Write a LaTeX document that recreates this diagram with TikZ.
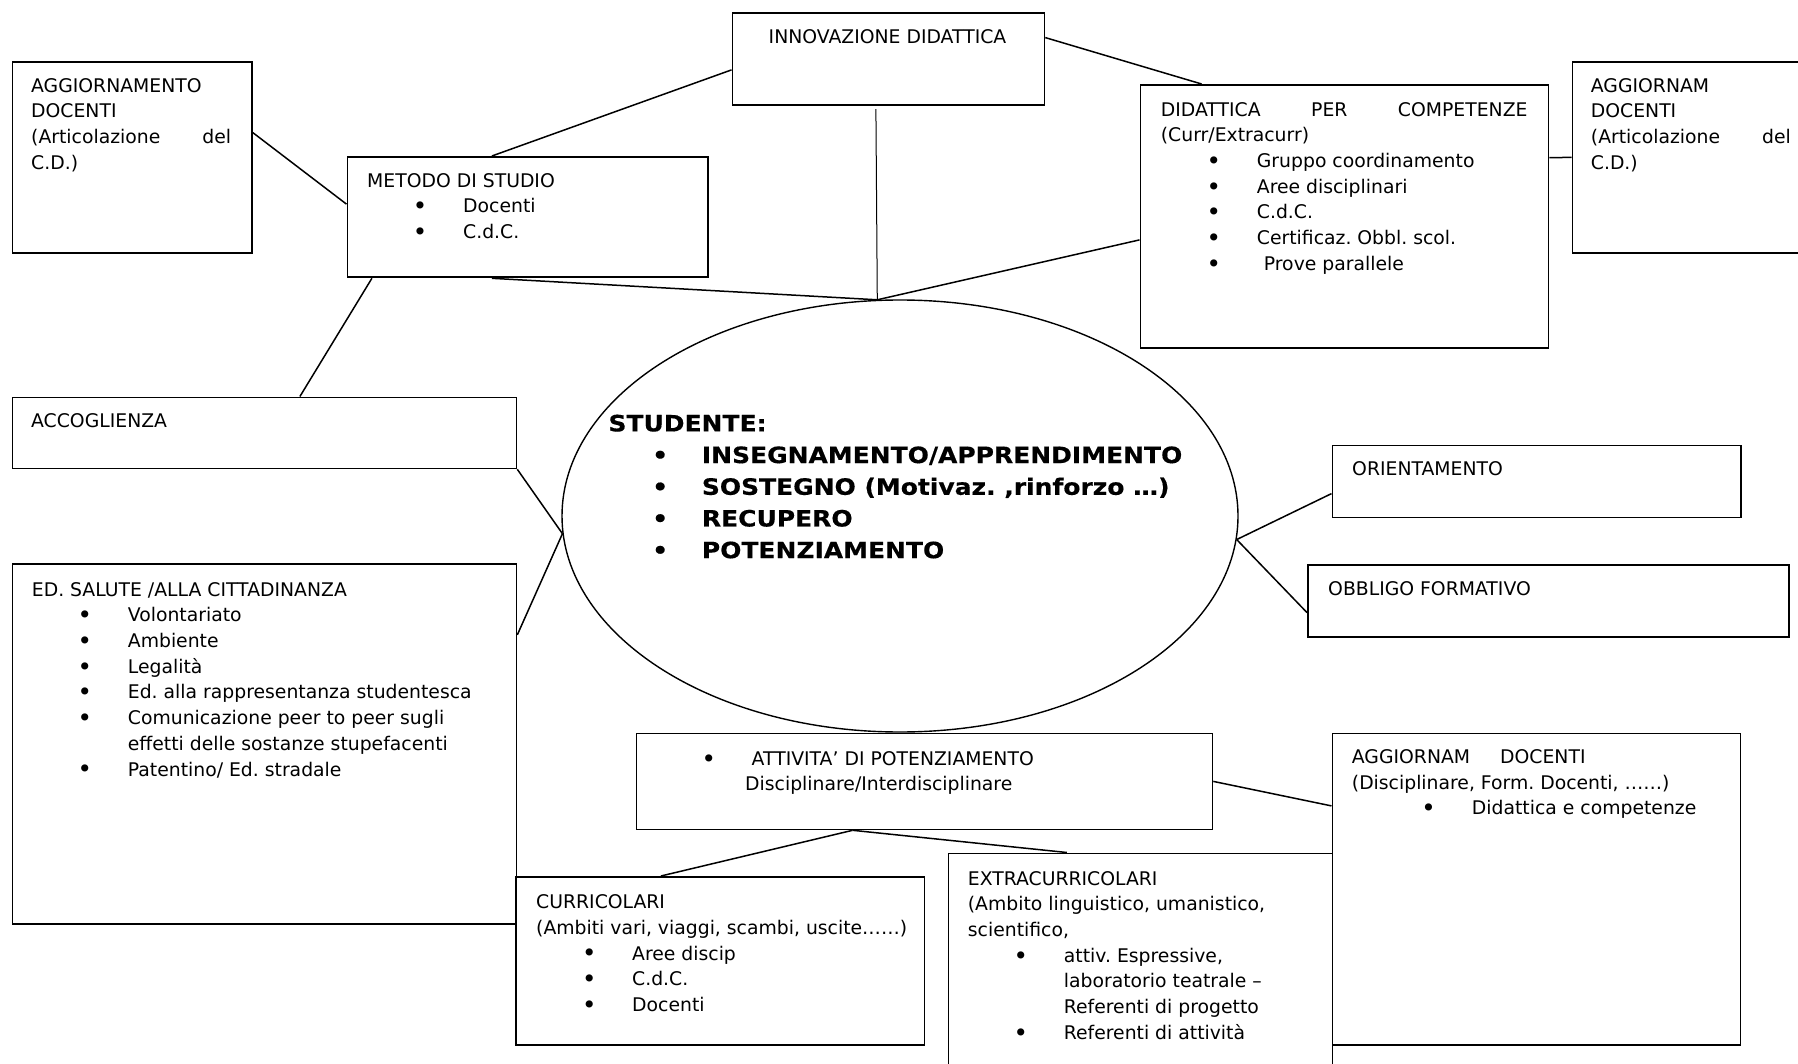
\documentclass[tikz,border=0pt]{standalone}
\usepackage{graphicx}
\usepackage{fontspec}
\setmainfont{DejaVu Sans}
\newfontfamily\boldwide{DejaVu Sans Bold}[FakeStretch=1.11,FakeBold=0.4]
\usetikzlibrary{shapes.geometric}
\frenchspacing
\newcommand\mydot{\raisebox{-1.9pt}{\scalebox{1.3}{\textbullet}}}
\newcommand\mybul[1]{\makebox[96pt][l]{\hspace*{53pt}\makebox[0pt]{\mydot}}#1}
\newcommand\mybulb[1]{\makebox[120pt][l]{\hspace*{76.6pt}\makebox[0pt]{\mydot}}#1}
\newcommand\mybuls[1]{\makebox[93.4pt][l]{\hspace*{51.7pt}\makebox[0pt]{\textbullet}}#1}
\tikzset{
  rbox/.style={draw, line width=1.8pt, rectangle, inner sep=0pt, anchor=north west},
  tnode/.style={inner sep=0pt, anchor=north west, align=left, font=\fontsize{18.8}{25.7}\selectfont\frenchspacing},
  conn/.style={line width=1.5pt},
}
\begin{document}
\begin{tikzpicture}[x=1pt,y=-1pt]
\path[use as bounding box, fill=white] (0,0) rectangle (1798,1064);

% boxes
\node[rbox, minimum width=239.5pt, minimum height=191pt] (aggl) at (11.5,61) {};
\node[rbox, minimum width=360.5pt, minimum height=120.5pt] (metodo) at (346.5,156) {};
\node[rbox, minimum width=312pt, minimum height=92pt] (innov) at (731.5,12) {};
\node[rbox, minimum width=408pt, minimum height=263.5pt] (didat) at (1139.5,84) {};
\node[rbox, minimum width=240pt, minimum height=191pt] (aggr) at (1571.5,61) {};
\node[rbox, minimum width=504pt, minimum height=71pt] (accogl) at (11.5,396.5) {};
\node[rbox, minimum width=504pt, minimum height=360pt] (ed) at (11.5,563) {};
\node[rbox, minimum width=408.5pt, minimum height=72pt] (orient) at (1331.5,444.5) {};
\node[rbox, minimum width=481pt, minimum height=72pt] (obbligo) at (1307,564) {};
\node[rbox, minimum width=576pt, minimum height=96pt] (attiv) at (635.5,732.5) {};
\node[rbox, minimum width=408pt, minimum height=311.5pt] (aggbr) at (1331.5,732.5) {};
\node[rbox, minimum width=408.5pt, minimum height=168pt] (curric) at (515,876) {};
\node[rbox, minimum width=384pt, minimum height=230pt] (extra) at (947.5,852.5) {};
\node[draw, ellipse, line width=1.4pt, minimum width=676pt, minimum height=432pt, inner sep=0pt] (stud) at (900,516) {};

% texts
\node[tnode] (agglT) at (31,74) {\strut AGGIORNAMENTO\\DOCENTI\\\makebox[200pt][s]{(Articolazione del}\\C.D.)};
\node[tnode] (aggrT) at (1590.7,74) {\strut AGGIORNAM\\DOCENTI\\\makebox[200pt][s]{(Articolazione del}\\C.D.)};
\node[tnode] (metodoT) at (367,169) {\strut METODO DI STUDIO\\\mybul{Docenti}\\\mybul{C.d.C.}};
\node[tnode, anchor=north] (innovT) at (887.5,25.5) {\strut INNOVAZIONE DIDATTICA};
\node[tnode] (didatT) at (1160.7,98) {\strut\makebox[366.6pt][s]{DIDATTICA PER COMPETENZE}\\(Curr/Extracurr)\\\mybul{Gruppo coordinamento}\\\mybul{Aree disciplinari}\\\mybul{C.d.C.}\\\mybul{Certificaz. Obbl. scol.}\\\mybul{\hspace*{7pt}Prove parallele}};
\node[tnode] (accoglT) at (31,409.5) {\strut ACCOGLIENZA};
\node[tnode] (edT) at (31.7,578) {\strut ED. SALUTE /ALLA CITTADINANZA\\\mybul{Volontariato}\\\mybul{Ambiente}\\\mybul{Legalità}\\\mybul{Ed. alla rappresentanza studentesca}\\\mybul{Comunicazione peer to peer sugli}\\\hspace*{96pt}effetti delle sostanze stupefacenti\\\mybul{Patentino/ Ed. stradale}};
\node[tnode] (orientT) at (1352,457) {\strut ORIENTAMENTO};
\node[tnode] (obbligoT) at (1328,577) {\strut OBBLIGO FORMATIVO};
\node[tnode] (attivT) at (655.5,747) {\strut\mybul{ATTIVITA’ DI POTENZIAMENTO}\\\hspace*{89.5pt}Disciplinare/Interdisciplinare};
\node[tnode] (aggbrT) at (1351.7,745.4) {\strut\makebox[148.3pt][l]{AGGIORNAM}DOCENTI\\(Disciplinare, Form. Docenti, ……)\\\mybulb{Didattica e competenze}};
\node[tnode] (curricT) at (536,890.5) {\strut CURRICOLARI\\(Ambiti vari, viaggi, scambi, uscite……)\\\mybul{Aree discip}\\\mybul{C.d.C.}\\\mybul{Docenti}};
\node[tnode] (extraT) at (967.7,867) {\strut EXTRACURRICOLARI\\(Ambito linguistico, umanistico,\\scientifico,\\\mybul{attiv. Espressive,}\\\hspace*{96pt}laboratorio teatrale –\\\hspace*{96pt}Referenti di progetto\\\mybul{Referenti di attività}};
\node[tnode, font=\boldwide\fontsize{22.5}{31.7}\selectfont\frenchspacing] (studT) at (608.3,409) {\strut STUDENTE:\\\mybuls{INSEGNAMENTO/APPRENDIMENTO}\\\mybuls{SOSTEGNO (Motivaz. ,rinforzo …)}\\\mybuls{RECUPERO}\\\mybuls{POTENZIAMENTO}};

% connectors
\draw[conn] ([yshift=24.8pt]aggl.east) -- ([yshift=13pt]metodo.west);
\draw[conn] ([xshift=-35.75pt]metodo.north) -- ([yshift=-11pt]innov.west);
\draw[conn] ([yshift=21.3pt]innov.east) -- ([xshift=-142.8pt]didat.north);
\draw[line width=1pt] ([xshift=-12.5pt,yshift=-3.3pt]innov.south) -- (stud.96.6);
\draw[conn] ([xshift=-35.75pt]metodo.south) -- (stud.96.6);
\draw[conn] ([yshift=-23.25pt]didat.west) -- (stud.96.6);
\draw[conn] ([yshift=59pt]didat.east) -- (aggr.west);
\draw[conn] ([xshift=-155.75pt]metodo.south) -- ([xshift=35.5pt]accogl.north);
\draw[conn] (accogl.south east) -- (stud.183.7);
\draw[conn] ([yshift=109pt]ed.east) -- (stud.183.7);
\draw[conn] (stud.356.5) -- ([yshift=-12.2pt]orient.west);
\draw[conn] (stud.356.5) -- ([yshift=-11.7pt]obbligo.west);
\draw[conn] (attiv.east) -- ([yshift=83.25pt]aggbr.west);
\draw[conn] ([xshift=-71.8pt]attiv.south) -- ([xshift=-59.25pt]curric.north);
\draw[conn] ([xshift=-71.8pt]attiv.south) -- ([xshift=-73.5pt]extra.north);
\end{tikzpicture}
\end{document}
